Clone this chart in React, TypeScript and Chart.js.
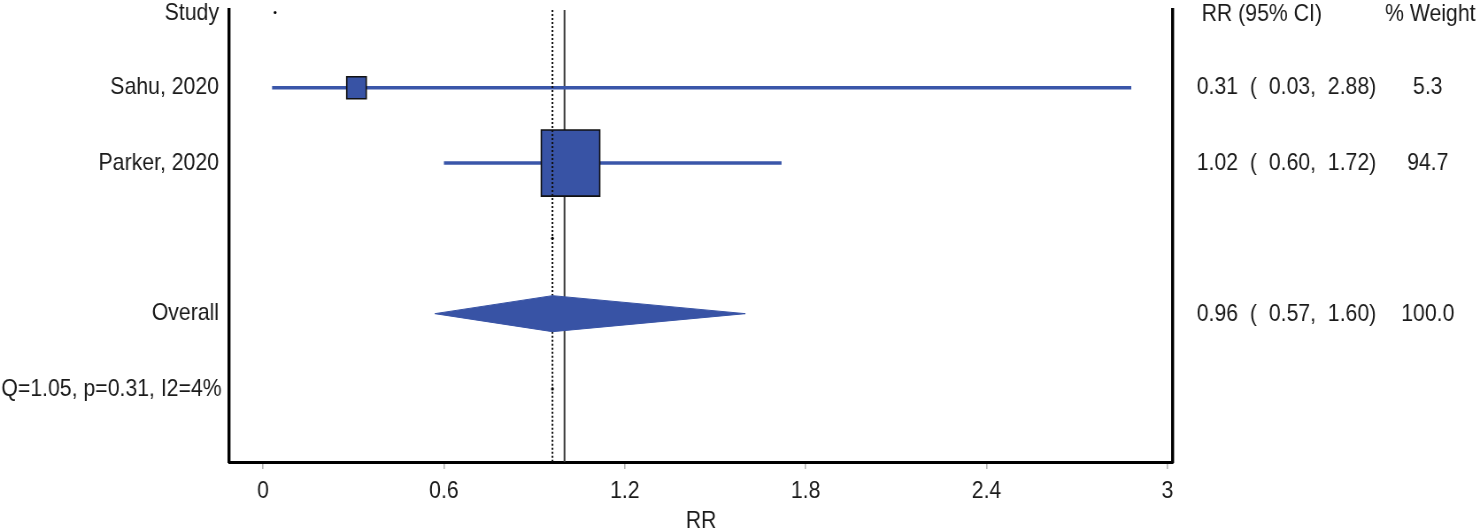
import React, { useEffect, useRef } from "react";
import { Chart, registerables } from "chart.js";

Chart.register(...registerables);

// ---------- data ----------
const studies = ["Sahu, 2020", "Parker, 2020"];
const studyRR = [0.31, 1.02];
const studyLower = [0.03, 0.6];
const studyUpper = [2.88, 1.72];
const studyWeight = [5.3, 94.7];
const studyRows = [1, 2];

const overallLabel = "Overall";
const overallRR = 0.96;
const overallLower = 0.57;
const overallUpper = 1.6;
const overallWeight = 100.0;
const overallRow = 4;

const heterogeneityLabel = "Q=1.05, p=0.31, I2=4%";
const heterogeneityRow = 5;

const headerRow = 0;
const headerStudy = "Study";
const headerEffect = "RR (95% CI)";
const headerWeight = "% Weight";

const xTicks = [0, 0.6, 1.2, 1.8, 2.4, 3];
const xTitle = "RR";
const nullValue = 1;

// small marker dots present in the figure
const markerDotX = [0.04, 0.96, 0.96];
const markerDotRow = [0, 3, 5];

// ---------- layout / style ----------
const CANVAS_W = 1672;
const CANVAS_H = 531;
const SQUASH = 1480 / CANVAS_W;
const X_MIN = -0.112;
const X_MAX = 3.018;
const Y_MIN = -0.033;
const Y_MAX = 5.97;
const DIAMOND_HALF = 0.239;
const BLUE = "#3853a5";
const LINE_BLUE = "#3a56a9";
const TEXT = "#1a1a1a";
const FONT_FAMILY = '"Liberation Sans", Arial, Helvetica, sans-serif';
const FONT = `24px ${FONT_FAMILY}`;

const boxSide = (w: number) => 8.4 + 5.92 * Math.sqrt(w);

const fmt2 = (v: number) => v.toFixed(2);
const effectText = (rr: number, lo: number, hi: number) =>
  `${fmt2(rr)}  (  ${fmt2(lo)},  ${fmt2(hi)})`;

const textPlugin = {
  id: "forestText",
  afterDraw(chart: any) {
    const { ctx, chartArea } = chart;
    const y = chart.scales.y;
    ctx.save();
    ctx.font = FONT;
    ctx.fillStyle = TEXT;
    ctx.textBaseline = "middle";

    // left column
    const leftX = chartArea.left - 11.6;
    ctx.textAlign = "right";
    ctx.fillText(headerStudy, leftX, y.getPixelForValue(headerRow) + 1);
    studies.forEach((s, i) => ctx.fillText(s, leftX, y.getPixelForValue(studyRows[i])));
    ctx.fillText(overallLabel, leftX, y.getPixelForValue(overallRow));
    ctx.fillText(heterogeneityLabel, leftX + 3, y.getPixelForValue(heterogeneityRow));

    // right columns
    const effX = chartArea.right + 27;
    const wCenter = chartArea.right + 288;
    ctx.textAlign = "left";
    ctx.fillText(headerEffect, chartArea.right + 32.5, y.getPixelForValue(headerRow) + 1.5);
    ctx.fillText(headerWeight, chartArea.right + 239.7, y.getPixelForValue(headerRow) + 1.5);
    studies.forEach((_, i) => {
      ctx.textAlign = "left";
      ctx.fillText(
        effectText(studyRR[i], studyLower[i], studyUpper[i]),
        effX,
        y.getPixelForValue(studyRows[i])
      );
      ctx.textAlign = "center";
      ctx.fillText(studyWeight[i].toFixed(1), wCenter, y.getPixelForValue(studyRows[i]));
    });
    ctx.textAlign = "left";
    ctx.fillText(effectText(overallRR, overallLower, overallUpper), effX, y.getPixelForValue(overallRow) + 1);
    ctx.textAlign = "center";
    ctx.fillText(overallWeight.toFixed(1), wCenter, y.getPixelForValue(overallRow) + 1);
    ctx.restore();
  },
};

export default function App() {
  const ref = useRef<HTMLCanvasElement | null>(null);

  useEffect(() => {
    if (!ref.current) return;

    const ciDatasets = studies.map((s, i) => ({
      label: `${s} CI`,
      data: [
        { x: studyLower[i], y: studyRows[i] },
        { x: studyUpper[i], y: studyRows[i] },
      ],
      showLine: true,
      borderColor: LINE_BLUE,
      borderWidth: 3.5,
      pointRadius: 0,
      order: 3,
    }));

    const datasets: any[] = [
      {
        label: "null line",
        data: [
          { x: nullValue, y: Y_MIN },
          { x: nullValue, y: Y_MAX },
        ],
        showLine: true,
        borderColor: "#3a3a3a",
        borderWidth: 2,
        pointRadius: 0,
        order: 4,
      },
      ...ciDatasets,
      {
        label: "boxes",
        data: studyRR.map((v, i) => ({ x: v, y: studyRows[i] })),
        pointStyle: "rect",
        pointRadius: (c: any) => boxSide(studyWeight[c.dataIndex]) / Math.SQRT2,
        pointHoverRadius: (c: any) => boxSide(studyWeight[c.dataIndex]) / Math.SQRT2,
        pointBackgroundColor: BLUE,
        pointBorderColor: "#111",
        pointBorderWidth: 1.6,
        showLine: false,
        order: 2,
      },
      {
        label: "overall line top",
        data: [
          { x: overallRR, y: Y_MIN },
          { x: overallRR, y: overallRow - DIAMOND_HALF },
        ],
        showLine: true,
        borderColor: "#111",
        borderWidth: 2,
        borderDash: [2, 2],
        pointRadius: 0,
        order: 1,
      },
      {
        label: "overall line bottom",
        data: [
          { x: overallRR, y: overallRow + DIAMOND_HALF },
          { x: overallRR, y: Y_MAX },
        ],
        showLine: true,
        borderColor: "#111",
        borderWidth: 2,
        borderDash: [2, 2],
        pointRadius: 0,
        order: 1,
      },
      {
        label: "overall diamond",
        data: [
          { x: overallLower, y: overallRow },
          { x: overallRR, y: overallRow - DIAMOND_HALF },
          { x: overallUpper, y: overallRow },
          { x: overallRR, y: overallRow + DIAMOND_HALF },
          { x: overallLower, y: overallRow },
        ],
        showLine: true,
        fill: "shape",
        backgroundColor: BLUE,
        borderColor: BLUE,
        borderWidth: 1,
        tension: 0,
        pointRadius: 0,
        order: 0,
      },
      {
        label: "marker dots",
        data: markerDotX.map((v, i) => ({ x: v, y: markerDotRow[i] })),
        pointStyle: "circle",
        pointRadius: 1.6,
        pointBackgroundColor: "#000",
        pointBorderWidth: 0,
        showLine: false,
        order: 0,
      },
    ];

    const chart = new Chart(ref.current, {
      type: "scatter",
      data: { datasets },
      options: {
        animation: false,
        responsive: false,
        maintainAspectRatio: false,
        devicePixelRatio: 1,
        layout: { autoPadding: false, padding: { left: 259, right: 347, top: 10, bottom: 0 } },
        plugins: {
          legend: { display: false },
          tooltip: { enabled: false },
          title: { display: false },
        },
        events: [],
        scales: {
          x: {
            type: "linear",
            position: "bottom",
            min: X_MIN,
            max: X_MAX,
            afterBuildTicks: (scale: any) => {
              scale.ticks = xTicks.map((v) => ({ value: v }));
            },
            afterFit: (scale: any) => {
              scale.height = 69;
            },
            ticks: {
              font: { size: 24, family: FONT_FAMILY },
              color: TEXT,
              padding: 8,
              maxRotation: 0,
              autoSkip: false,
              callback: (v: any) => String(v),
            },
            grid: {
              display: true,
              drawOnChartArea: false,
              drawTicks: true,
              tickLength: 7,
              color: "#b5b5b5",
              lineWidth: 1.6,
            },
            border: { display: true, color: "#000", width: 3 },
            title: {
              display: true,
              text: xTitle,
              font: { size: 24, family: FONT_FAMILY, lineHeight: 1 },
              color: TEXT,
              padding: { top: 0, bottom: -2 },
            },
          },
          y: {
            type: "linear",
            position: "left",
            reverse: true,
            min: Y_MIN,
            max: Y_MAX,
            display: true,
            afterFit: (scale: any) => {
              scale.width = 0;
            },
            ticks: { display: false },
            grid: { display: true, drawOnChartArea: false, drawTicks: false },
            border: { display: true, color: "#000", width: 3.4 },
          },
          y2: {
            type: "linear",
            axis: "y",
            position: "right",
            reverse: true,
            min: Y_MIN,
            max: Y_MAX,
            display: true,
            afterFit: (scale: any) => {
              scale.width = 0;
            },
            ticks: { display: false },
            grid: { display: true, drawOnChartArea: false, drawTicks: false },
            border: { display: true, color: "#000", width: 3.4 },
          },
        },
      } as any,
      plugins: [textPlugin],
    });

    return () => chart.destroy();
  }, []);

  return (
    <div
      style={{
        position: "fixed",
        left: 0,
        top: 0,
        width: 1480,
        height: 531,
        overflow: "hidden",
        background: "#fff",
      }}
    >
      <div
        style={{
          width: CANVAS_W,
          height: CANVAS_H,
          transform: `scaleX(${SQUASH})`,
          transformOrigin: "0 0",
        }}
      >
        <canvas ref={ref} width={CANVAS_W} height={CANVAS_H} style={{ display: "block" }} />
      </div>
    </div>
  );
}
